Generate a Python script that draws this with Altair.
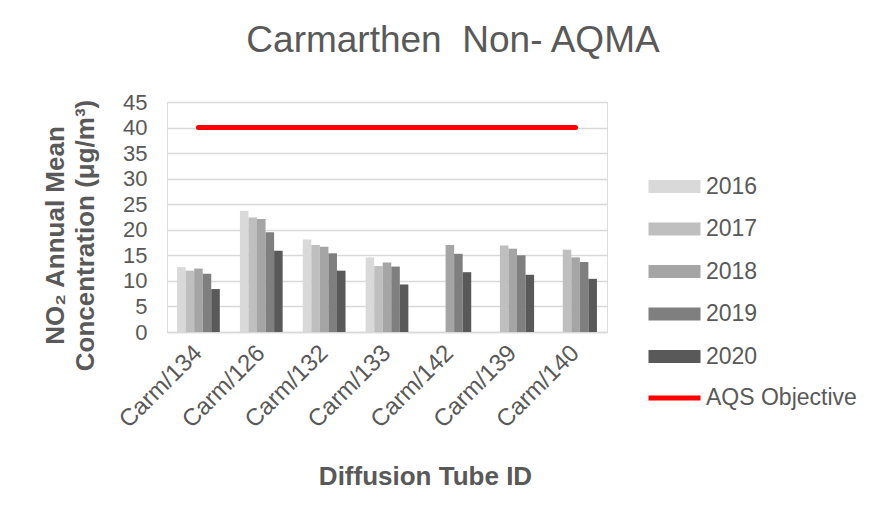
import altair as alt
import pandas as pd

tubes = ["Carm/134", "Carm/126", "Carm/132", "Carm/133", "Carm/142", "Carm/139", "Carm/140"]
years = ["2016", "2017", "2018", "2019", "2020"]
v2016 = [12.7, 23.7, 18.1, 14.6, None, None, None]
v2017 = [12.0, 22.4, 17.0, 12.9, None, 16.9, 16.1]
v2018 = [12.4, 22.1, 16.7, 13.6, 17.0, 16.3, 14.6]
v2019 = [11.4, 19.5, 15.4, 12.8, 15.3, 15.0, 13.7]
v2020 = [8.4, 15.9, 12.0, 9.3, 11.7, 11.2, 10.4]
y_ticks = [0, 5, 10, 15, 20, 25, 30, 35, 40, 45]
objective_label = "AQS Objective"
objective_value = 40
bar_colors = ["#d9d9d9", "#bfbfbf", "#a5a5a5", "#7f7f7f", "#595959"]

rows = []
for yr, vals in zip(years, [v2016, v2017, v2018, v2019, v2020]):
    for t, v in zip(tubes, vals):
        if v is not None:
            rows.append({"tube": t, "year": yr, "value": v})
bars_df = pd.DataFrame(rows)
line_df = pd.DataFrame({"tube": tubes, "value": [objective_value] * len(tubes),
                        "series": [objective_label] * len(tubes)})

FONT = "Liberation Sans"
GREY = "#595959"

x_enc = alt.X(
    "tube:N", sort=tubes,
    scale=alt.Scale(domain=tubes, paddingInner=0.32, paddingOuter=0.16),
    axis=alt.Axis(
        title="Diffusion Tube ID", labelAngle=-45, labelAlign="right", labelBaseline="middle",
        labelFontSize=24, labelColor=GREY, labelFont=FONT, labelPadding=17,
        ticks=False, domainColor="#d9d9d9", domainWidth=1.5, grid=False, labelOverlap=False,
        titleFontSize=26, titleFontWeight="bold", titleColor=GREY, titleFont=FONT,
        titleX=258, titleY=152, titleBaseline="alphabetic", titleAlign="center",
    ),
)
y_enc = alt.Y(
    "value:Q",
    scale=alt.Scale(domain=[0, 45], nice=False),
    axis=alt.Axis(
        title=["NO\u2082 Annual Mean", "Concentration (\u03bcg/m\u00b3)"],
        values=y_ticks, tickCount=10, labelFontSize=22, labelColor=GREY, labelFont=FONT,
        labelPadding=20, ticks=False, domain=False, grid=True, gridColor="#d9d9d9",
        gridWidth=1.5, labelOverlap=False, titleFontSize=26, titleFontWeight="bold",
        titleColor=GREY, titleFont=FONT, titleX=-104, titleY=133, titleAngle=-90,
        titleAlign="center", titleBaseline="alphabetic", titleLineHeight=30,
    ),
)

bars = alt.Chart(bars_df).mark_bar().encode(
    x=x_enc,
    xOffset=alt.XOffset("year:N", scale=alt.Scale(domain=years, paddingInner=0, paddingOuter=0)),
    y=y_enc,
    fill=alt.Fill("year:N", scale=alt.Scale(domain=years, range=bar_colors),
                  legend=alt.Legend(title=None, orient="none", legendX=496, legendY=73,
                                    symbolType="M-4,-1H4V1H-4Z", symbolSize=169,
                                    symbolStrokeWidth=0, labelFontSize=23, labelColor=GREY,
                                    labelFont=FONT, labelOffset=20, rowPadding=18.5,
                                    padding=0)),
)

line = alt.Chart(line_df).mark_line(strokeWidth=5, strokeCap="round").encode(
    x=x_enc,
    y=y_enc,
    stroke=alt.Stroke("series:N", scale=alt.Scale(domain=[objective_label], range=["#ff0000"]),
                      legend=alt.Legend(title=None, orient="none", legendX=496, legendY=284.5,
                                        symbolType="M-4,0H4", symbolSize=169,
                                        symbolStrokeWidth=5, labelFontSize=23, labelColor=GREY,
                                        labelFont=FONT, labelOffset=20, padding=0)),
)

chart = alt.layer(bars, line).properties(
    width=440, height=230,
    title=alt.Title("Carmarthen\u00a0 Non- AQMA", fontSize=37, font=FONT, fontWeight="normal",
                    color=GREY, anchor="middle", dx=66, offset=31),
    padding={"left": 159, "top": 94, "right": 262, "bottom": 160},
    autosize=alt.AutoSizeParams(type="none"),
).configure_view(stroke=None).configure(background="white")

chart.save("out.html", embed_options={"renderer": "svg", "actions": False})
